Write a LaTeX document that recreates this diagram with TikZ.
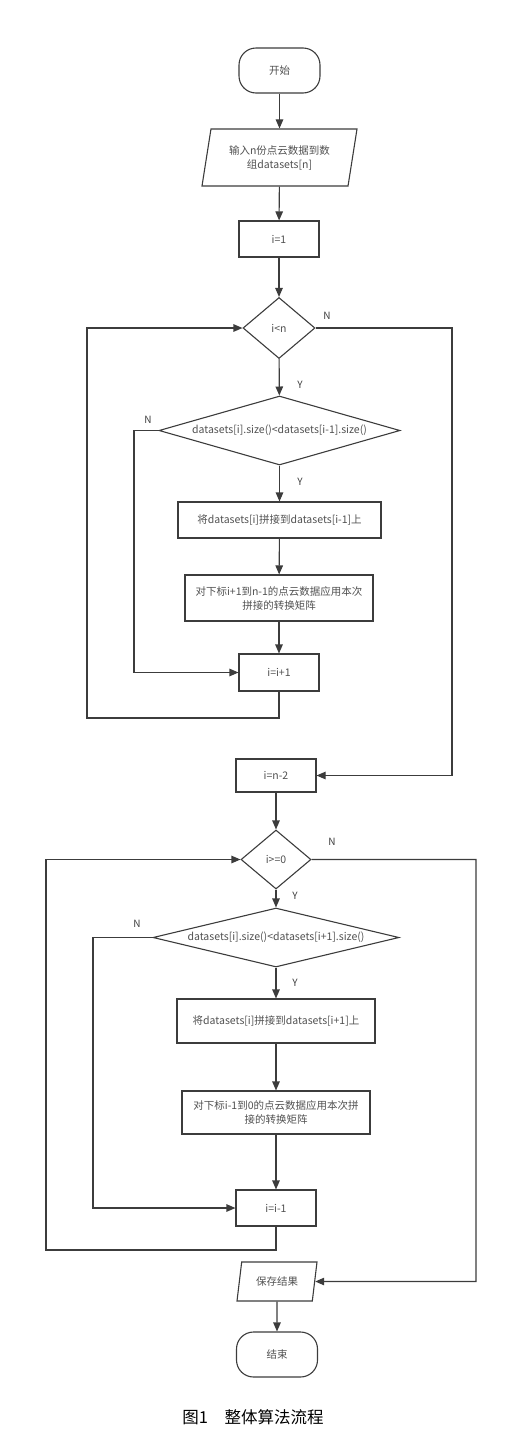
\documentclass[tikz,border=0pt]{standalone}
\usepackage{fontspec}
\setmainfont{Noto Sans CJK SC}
\usepackage{tikz}
\usetikzlibrary{arrows.meta}
\usetikzlibrary{shapes.geometric}
\definecolor{edge}{HTML}{3C3C3C}
\definecolor{ink}{HTML}{505050}
\tikzset{base/.style = {draw=edge, line width=1.1pt, text=ink, font=\fontsize{10.5}{14}\selectfont, align=center}}
\tikzset{term/.style = {base, rounded corners=17, minimum width=81, minimum height=45}}
\tikzset{proc/.style = {base, rectangle, minimum width=80, minimum height=36}}
\tikzset{io/.style = {base, trapezium, trapezium left angle=74, trapezium right angle=106, trapezium stretches body, inner xsep=2}}
\tikzset{dec/.style = {base, diamond, inner sep=0, aspect=1}}
\tikzset{lbl/.style = {text=edge, font=\fontsize{10}{12}\selectfont}}
\tikzset{arr/.style = {draw=edge, line width=1.1pt, -{Triangle[length=9pt,width=7.5pt]}}}

\begin{document}
\begin{tikzpicture}[x=1pt, y=-1pt]
        \useasboundingbox (0,0) rectangle (512,1446);
        % first loop
        \node [term] (start) at (279.5,70.5) {开始};
        \node [io, minimum width=155, minimum height=57] (input) at (279.5,157.5) {输入n份点云数据到数\\组datasets[n]};
        \node [proc] (init1) at (279,239) {i=1};
        \node [dec, minimum width=72, minimum height=61] (cond1) at (279,328) {i<n};
        \node [dec, aspect=4, minimum width=241, minimum height=69] (cmp1) at (279.5,430.5) {datasets[i].size()<datasets[i-1].size()};
        \node [proc, minimum width=203] (merge1) at (279.5,520) {将datasets[i]拼接到datasets[i-1]上};
        \node [proc, minimum width=188, minimum height=46] (apply1) at (279,598) {对下标i+1到n-1的点云数据应用本次\\拼接的转换矩阵};
        \node [proc, minimum height=37] (inc1) at (279,672.5) {i=i+1};
        \coordinate (back1) at (87,718);
        \coordinate (skip1) at (134,430.5);
        \coordinate (exit1) at (452,775.5);
        % second loop
        \node [proc, minimum height=33] (init2) at (276,775.5) {i=n-2};
        \node [dec, minimum width=70, minimum height=59] (cond2) at (276,859.5) {i>=0};
        \node [dec, aspect=4, minimum width=246, minimum height=59] (cmp2) at (276,937.5) {datasets[i].size()<datasets[i+1].size()};
        \node [proc, minimum width=198, minimum height=44] (merge2) at (276,1021) {将datasets[i]拼接到datasets[i+1]上};
        \node [proc, minimum width=188, minimum height=43] (apply2) at (276,1112.5) {对下标i-1到0的点云数据应用本次拼\\接的转换矩阵};
        \node [proc] (dec2) at (276,1208) {i=i-1};
        \node [io, minimum width=80, minimum height=39] (save) at (277,1281.5) {保存结果};
        \node [term] (finish) at (277,1354.5) {结束};
        \coordinate (back2) at (46,1250);
        \coordinate (skip2) at (93,937.5);
        \coordinate (exit2) at (476,1281.5);
        \node [font=\fontsize{16.5}{18}\selectfont] (caption) at (253,1417) {图1\quad 整体算法流程};
        % branch labels
        \node [lbl] (n1) at (327,316) {N};
        \node [lbl] (y1) at (300,385) {Y};
        \node [lbl] (n2) at (148,420) {N};
        \node [lbl] (y2) at (300,482) {Y};
        \node [lbl] (n3) at (332,842) {N};
        \node [lbl] (y3) at (295,896) {Y};
        \node [lbl] (n4) at (137,924) {N};
        \node [lbl] (y4) at (295,983) {Y};
        % connectors
        \draw [arr] (start) -- (input);
        \draw [arr] (input) -- (init1);
        \draw [arr] (init1) -- (cond1);
        \draw [arr] (cond1) -- (cmp1);
        \draw [arr] (cmp1) -- (merge1);
        \draw [arr] (merge1) -- (apply1);
        \draw [arr] (apply1) -- (inc1);
        \draw [arr] (inc1.south) |- (back1) |- (cond1.west);
        \draw [arr] (cmp1.west) -- (skip1) |- (inc1.west);
        \draw [arr] (cond1.east) -| (exit1) -- (init2.east);
        \draw [arr] (init2) -- (cond2);
        \draw [arr] (cond2) -- (cmp2);
        \draw [arr] (cmp2) -- (merge2);
        \draw [arr] (merge2) -- (apply2);
        \draw [arr] (apply2) -- (dec2);
        \draw [arr] (dec2.south) |- (back2) |- (cond2.west);
        \draw [arr] (cmp2.west) -- (skip2) |- (dec2.west);
        \draw [arr] (cond2.east) -| (exit2) -- (save.east);
        \draw [arr] (save.south) -- (finish.north);
    \end{tikzpicture}
\end{document}
